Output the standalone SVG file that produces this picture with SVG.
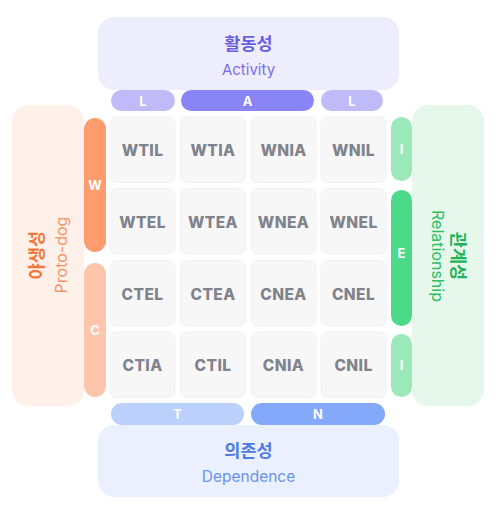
<svg xmlns="http://www.w3.org/2000/svg" width="497" height="515" viewBox="0 0 497 515">
<style>
.cell{fill:#F7F7F8;stroke:#F1F1F3;stroke-width:1}
.ct{font-family:Inter,"Noto Sans",sans-serif;font-weight:800;font-size:15.5px;fill:#80838C;text-anchor:middle;letter-spacing:0.4px}
.pl{font-family:Inter,"Noto Sans",sans-serif;font-weight:700;font-size:13px;fill:#FFFFFF;text-anchor:middle}
.kt{font-family:"Noto Sans CJK KR",sans-serif;font-weight:700;font-size:17.5px;text-anchor:middle}
.et{font-family:Inter,"Noto Sans",sans-serif;font-weight:400;font-size:15px;text-anchor:middle}
</style>
<rect width="497" height="515" fill="#FFFFFF"/>
<g id="activity">
<rect x="98" y="17" width="301" height="73" rx="16" fill="#EEEDFD"/>
<text class="kt" x="248.5" y="50" fill="#6A5FE0">활동성</text>
<text class="et" x="248.5" y="75" fill="#7A71E8">Activity</text>
</g>
<g id="pill-L1"><rect x="111" y="90" width="64" height="21" rx="10.5" fill="#BEBBF8"/><text class="pl" x="143" y="105.5">L</text></g>
<g id="pill-A"><rect x="181" y="90" width="133" height="21" rx="10.5" fill="#8A85F7"/><text class="pl" x="247.5" y="105.5">A</text></g>
<g id="pill-L2"><rect x="321" y="90" width="62" height="21" rx="10.5" fill="#BEBBF8"/><text class="pl" x="352" y="105.5">L</text></g>
<g id="proto-dog">
<rect x="12" y="105" width="72" height="301" rx="16" fill="#FFF1EA"/>
<text class="kt" transform="translate(43,255) rotate(-90)" fill="#F5763A">야생성</text>
<text class="et" transform="translate(67,255) rotate(-90)" fill="#F59566" style="font-size:16px">Proto-dog</text>
</g>
<g id="pill-W"><rect x="84" y="118" width="22" height="134" rx="11" fill="#FF9C6E"/><text class="pl" x="95" y="190">W</text></g>
<g id="pill-C"><rect x="84" y="263" width="22" height="134" rx="11" fill="#FFC5AC"/><text class="pl" x="95" y="334.5">C</text></g>
<g id="relationship">
<rect x="412" y="105" width="72" height="301" rx="16" fill="#E5F8EB"/>
<text class="kt" transform="translate(452,256) rotate(90)" fill="#1FB356">관계성</text>
<text class="et" transform="translate(432,256) rotate(90)" fill="#2FBF66" style="font-size:16px">Relationship</text>
</g>
<g id="pill-I1"><rect x="391" y="117" width="21" height="64" rx="10.5" fill="#9BE8B9"/><text class="pl" x="401.5" y="153.5">I</text></g>
<g id="pill-E"><rect x="391" y="190" width="21" height="136" rx="10.5" fill="#4CD98A"/><text class="pl" x="401.5" y="258">E</text></g>
<g id="pill-I2"><rect x="391" y="334" width="21" height="63" rx="10.5" fill="#9BE8B9"/><text class="pl" x="401.5" y="370">I</text></g>
<g id="dependence">
<rect x="98" y="425" width="301" height="72" rx="16" fill="#EAF0FE"/>
<text class="kt" x="248.5" y="457" fill="#4E7BE6">의존성</text>
<text class="et" x="248.5" y="482" fill="#6A92EE" style="font-size:15.5px">Dependence</text>
</g>
<g id="pill-T"><rect x="111" y="403" width="133" height="22" rx="11" fill="#BCD0FC"/><text class="pl" x="177.5" y="418.8">T</text></g>
<g id="pill-N"><rect x="251" y="403" width="134" height="22" rx="11" fill="#84A8FA"/><text class="pl" x="318" y="418.8">N</text></g>
<g id="cell-WTIL"><rect class="cell" x="110" y="117" width="65" height="65.5" rx="7"/><text class="ct" x="142.5" y="156">WTIL</text></g>
<g id="cell-WTIA"><rect class="cell" x="180.5" y="117" width="65" height="65.5" rx="7"/><text class="ct" x="213" y="156">WTIA</text></g>
<g id="cell-WNIA"><rect class="cell" x="251" y="117" width="65" height="65.5" rx="7"/><text class="ct" x="283.5" y="156">WNIA</text></g>
<g id="cell-WNIL"><rect class="cell" x="321" y="117" width="65" height="65.5" rx="7"/><text class="ct" x="353.5" y="156">WNIL</text></g>
<g id="cell-WTEL"><rect class="cell" x="110" y="188.5" width="65" height="65.5" rx="7"/><text class="ct" x="142.5" y="227.5">WTEL</text></g>
<g id="cell-WTEA"><rect class="cell" x="180.5" y="188.5" width="65" height="65.5" rx="7"/><text class="ct" x="213" y="227.5">WTEA</text></g>
<g id="cell-WNEA"><rect class="cell" x="251" y="188.5" width="65" height="65.5" rx="7"/><text class="ct" x="283.5" y="227.5">WNEA</text></g>
<g id="cell-WNEL"><rect class="cell" x="321" y="188.5" width="65" height="65.5" rx="7"/><text class="ct" x="353.5" y="227.5">WNEL</text></g>
<g id="cell-CTEL"><rect class="cell" x="110" y="260.5" width="65" height="65.5" rx="7"/><text class="ct" x="142.5" y="299.5">CTEL</text></g>
<g id="cell-CTEA"><rect class="cell" x="180.5" y="260.5" width="65" height="65.5" rx="7"/><text class="ct" x="213" y="299.5">CTEA</text></g>
<g id="cell-CNEA"><rect class="cell" x="251" y="260.5" width="65" height="65.5" rx="7"/><text class="ct" x="283.5" y="299.5">CNEA</text></g>
<g id="cell-CNEL"><rect class="cell" x="321" y="260.5" width="65" height="65.5" rx="7"/><text class="ct" x="353.5" y="299.5">CNEL</text></g>
<g id="cell-CTIA"><rect class="cell" x="110" y="332" width="65" height="65.5" rx="7"/><text class="ct" x="142.5" y="371">CTIA</text></g>
<g id="cell-CTIL"><rect class="cell" x="180.5" y="332" width="65" height="65.5" rx="7"/><text class="ct" x="213" y="371">CTIL</text></g>
<g id="cell-CNIA"><rect class="cell" x="251" y="332" width="65" height="65.5" rx="7"/><text class="ct" x="283.5" y="371">CNIA</text></g>
<g id="cell-CNIL"><rect class="cell" x="321" y="332" width="65" height="65.5" rx="7"/><text class="ct" x="353.5" y="371">CNIL</text></g>
<g id="connectors"></g>
</svg>
